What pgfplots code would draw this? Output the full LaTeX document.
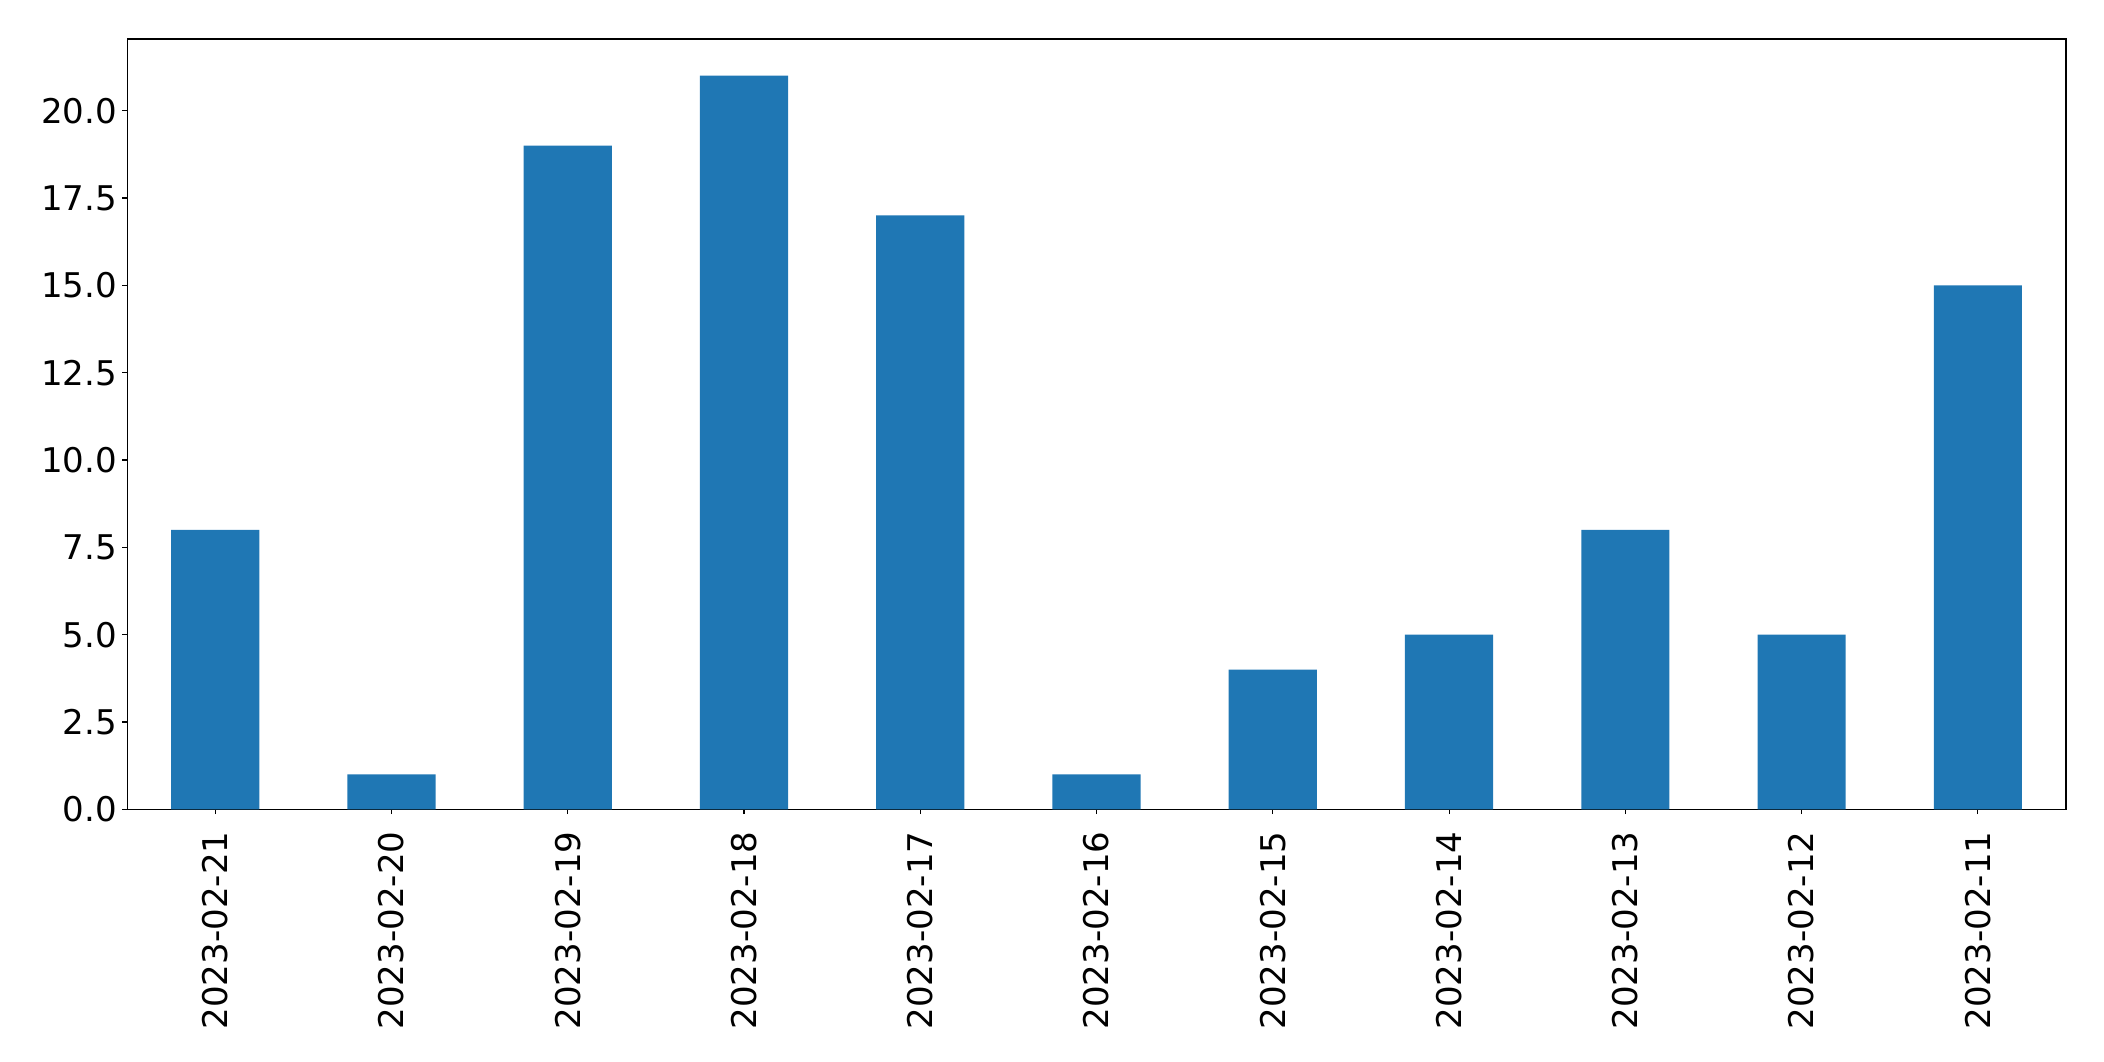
\documentclass[border=0pt]{standalone}
\usepackage{pgfplots}
\pgfplotsset{compat=1.18}
\usepackage{fontspec}
\setmainfont{DejaVu Sans}
\definecolor{barblue}{HTML}{1F77B4}
\begin{document}
\begin{tikzpicture}
\begin{axis}[
  name=ax,
  width=969bp, height=385bp, scale only axis,
  xmin=-0.5, xmax=10.5, ymin=0, ymax=22.05,
  xtick={0,...,10},
  xticklabels={2023-02-21,2023-02-20,2023-02-19,2023-02-18,2023-02-17,2023-02-16,2023-02-15,2023-02-14,2023-02-13,2023-02-12,2023-02-11},
  ytick={0,2.5,5,7.5,10,12.5,15,17.5,20},
  tick align=outside, tick pos=left,
  major tick length=2.4bp,
  axis line style={line width=0.55bp},
  every tick/.style={black, line width=0.55bp},
  /pgf/number format/assume math mode=true,
  tick label style={font=\fontsize{17bp}{20bp}\selectfont, inner sep=0pt},
  yticklabel style={/pgf/number format/.cd, fixed, fixed zerofill, precision=1, /tikz/.cd, xshift=-2.4bp},
  xticklabel style={rotate=90, anchor=east, xshift=-8.5bp},
]
\addplot[ybar, bar width=0.5, fill=barblue, draw=none] coordinates {
(0,8) (1,1) (2,19) (3,21) (4,17) (5,1) (6,4) (7,5) (8,8) (9,5) (10,15)
};
\end{axis}
\pgfresetboundingbox
\path ([xshift=-63.5bp,yshift=-126bp]ax.south west) rectangle ([xshift=19bp,yshift=19.5bp]ax.north east);
\end{tikzpicture}
\end{document}
